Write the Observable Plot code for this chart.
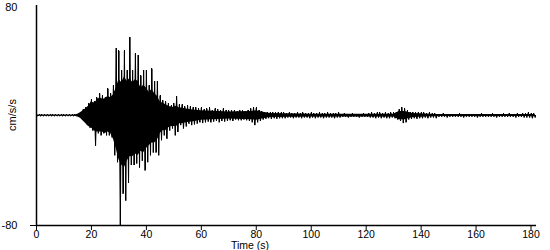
<!DOCTYPE html>
<html>
<head>
<meta charset="utf-8">
<script src="https://cdn.jsdelivr.net/npm/d3@7"></script>
<script src="https://cdn.jsdelivr.net/npm/@observablehq/plot@0.6"></script>
<style>
  html, body { margin: 0; padding: 0; background: #fff; }
  #chart { position: relative; width: 550px; height: 250px; overflow: hidden; }
  .lab { position: absolute; font: 11px/11px "Liberation Sans", Arial, sans-serif; color: #000; white-space: nowrap; }
  .ylab { left: 12px; top: 115px; transform: translate(-50%, -50%) rotate(-90deg); }
  .xlab { left: 250px; top: 240px; font-size: 10.5px; line-height: 10px; transform: translateX(-50%); }
</style>
</head>
<body>
<div id="chart"></div>
<script>
// Time grid of the peak readings (seconds)
const startTime = 0;
const binWidth = 1;

// Positive peak per 1-s bin (cm/s/s)
const upperPeak = [
  0.4,0.4,0.4,0.4,0.4,0.4,0.4,0.4,0.4,0.4,
  0.4,0.4,0.4,0.4,0.4,1,2,4.5,6,9,
  12,10,13,16,14.5,13,19.5,16,22,49,
  47,33,47,33,57,33,45,44,29,33,
  33,22,34,25,25,14.5,11,10,9,7,
  9,14,8,8,6.5,7,6.5,6,6,5,
  5.5,4.5,5,5.5,4,5,4.5,4,5,4,
  3.5,4,3.5,3,4,3.5,3,4,5,6,
  5.5,4,3,2.5,2.5,2,2.5,2,2.5,2,
  2,1.5,2,1.5,1.5,2,1.5,2,1.5,1.5,
  2,1.5,1.5,2,1.5,1.5,2,1.5,1.5,1.5,
  2,1,1.5,1,1,1.5,1,1,1,1.5,
  1,1.5,2,1.5,2,2,1.5,2,1.5,2,
  2,2.5,4.5,6,5,3.5,2.5,2.5,2,2.5,
  2,2,1.5,2,1.5,1.5,1,1,1.5,1,
  1,1,1,1,1.5,1,1,1,1,1,
  1,1,1.5,1,1,1,1.5,1,1,1,
  1.5,1,1.5,1,1,1.5,1,1.5,1.5,2,
  1.5,1.5
];

// Negative peak magnitude per 1-s bin (cm/s/s)
const lowerPeak = [
  0.4,0.4,0.4,0.4,0.4,0.4,0.4,0.4,0.4,0.4,
  0.4,0.4,0.4,0.4,0.4,1,2,4.5,7,9,
  11,22,13,14.5,13,14.5,14.5,16,29,34,
  80,57,62,49,36,36,35,38,33,40,
  34,29,27,27,29,18,14.5,17,11,9.5,
  14.5,12,7,9.5,8,6,7,6.5,6,5,
  5.5,5,4.5,5,4.5,4,5,4,4.5,4,
  3.5,4,3,3.5,3.5,3,3.5,4,5,7,
  5,4,3,2.5,2,2.5,2,2.5,2,2,
  2,1.5,1.5,2,1.5,1.5,2,1.5,1.5,2,
  1.5,2,1.5,1.5,2,1.5,1.5,1.5,2,1.5,
  1.5,1,1,1.5,1,1,1,1.5,1,1,
  1,1.5,1.5,2,1.5,2,1.5,2,2,1.5,
  2,3,4,5.5,5,3,2.5,2,2.5,2,
  2,1.5,2,1.5,1.5,2,1,1,1,1.5,
  1,1,1,1,1,1.5,1,1,1,1,
  1.5,1,1,1,1,1,1,1.5,1,1,
  1,1,1,1,1.5,1,1,1.5,1.5,1.5,
  2,1.5
];

// Solid core of the trace (cm/s/s)
const coreTime  = [0, 14, 15, 16, 17, 18, 19, 20, 21, 22, 23, 24, 25, 26, 27, 28, 29, 30, 31, 32, 33, 34, 35, 36, 37, 38, 39, 40, 41, 42, 43, 44, 45, 46, 47, 48, 49, 50, 51, 52, 53, 54, 55, 57, 60, 70, 78, 80, 82, 85, 100, 130, 132, 134, 137, 145, 181.5];
const coreUpper = [0.4, 0.4, 1, 2, 3.5, 5, 7, 10, 9, 11, 13, 12, 12, 14, 13, 15, 20, 26, 24, 28, 25, 27, 24, 26, 25, 20, 22, 20, 17, 19, 16, 14, 10, 9, 8, 7, 6, 6, 7, 5.5, 5.5, 5, 4.5, 4, 3.5, 2.5, 3, 3.5, 2.5, 1.5, 1, 1, 3, 3, 1.5, 0.8, 0.8];
const coreLower = [0.4, 0.4, 1, 2, 4, 6, 8, 9, 11, 12, 12, 12, 13, 12, 13, 17, 24, 32, 36, 38, 33, 30, 30, 28, 29, 26, 27, 24, 22, 20, 20, 18, 13, 11, 11, 9, 8, 8, 8, 6, 6, 5.5, 5, 4.5, 3.5, 2.5, 3, 3.5, 2.5, 1.5, 1, 1, 3, 3, 1.5, 0.8, 0.8];

const yTicks = [-80, 80];
const xTicks = [0, 20, 40, 60, 80, 100, 120, 140, 160, 180];

// Peaks: positive at bin start, negative at bin middle
const n = Math.min(upperPeak.length, lowerPeak.length);
const peaks = [];
for (let i = 0; i < n; i++) {
  const t = startTime + i * binWidth;
  peaks.push({time: t, acc: upperPeak[i]});
  peaks.push({time: t + binWidth / 2, acc: -lowerPeak[i]});
}
const core = coreTime.map((t, i) => ({time: t, hi: coreUpper[i], lo: -coreLower[i]}));

const chart = Plot.plot({
  width: 550,
  height: 250,
  marginLeft: 36,
  marginRight: 14,
  marginTop: 5,
  marginBottom: 25,
  style: {fontFamily: '"Liberation Sans", Arial, sans-serif', fontSize: "11px", color: "#000", background: "#fff"},
  x: {domain: [0, 182], label: null},
  y: {domain: [-80, 80], label: null},
  marks: [
    Plot.areaY(core, {x: "time", y1: "lo", y2: "hi", fill: "#000", curve: "linear"}),
    Plot.ruleX(peaks, {x: "time", y1: 0, y2: "acc", stroke: "#000", strokeWidth: 1, shapeRendering: "crispEdges"}),
    Plot.line(peaks, {x: "time", y: "acc", stroke: "#000", strokeWidth: 1, curve: "linear"}),
    Plot.ruleX([0], {stroke: "#000", strokeWidth: 1.5}),
    Plot.ruleY([-80], {stroke: "#000", strokeWidth: 1.5}),
    Plot.axisX(xTicks, {tickSize: 5, tickPadding: 0, fontSize: 10.5, tickFormat: d => String(d), label: null, stroke: "#000"}),
    Plot.axisY([-80], {tickSize: 6, tickPadding: 13, tickFormat: d => String(d), label: null, stroke: "#000"}),
    Plot.axisY([80], {tickSize: 0, tickPadding: 19, tickFormat: d => String(d), label: null, dy: 2})
  ]
});
const host = document.getElementById("chart");
host.appendChild(chart);
const ylab = document.createElement("div");
ylab.className = "lab ylab";
ylab.textContent = "cm/s/s";
host.appendChild(ylab);
const xlab = document.createElement("div");
xlab.className = "lab xlab";
xlab.textContent = "Time (s)";
host.appendChild(xlab);
</script>
</body>
</html>
